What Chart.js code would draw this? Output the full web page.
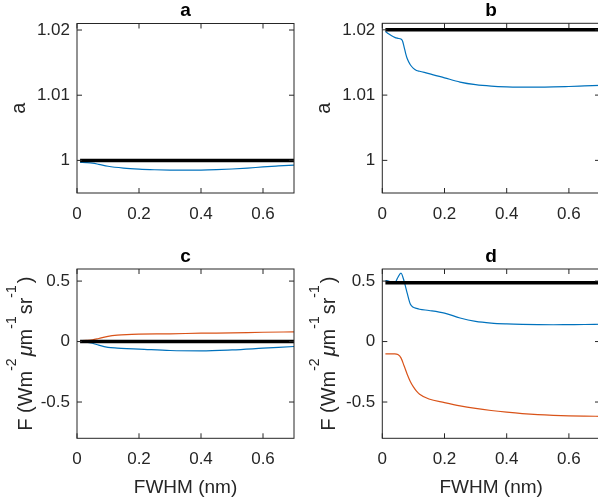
<!DOCTYPE html>
<html>
<head>
<meta charset="utf-8">
<script src="https://cdn.jsdelivr.net/npm/chart.js@4"></script>
<style>
  html, body { margin: 0; padding: 0; background: #fff; overflow: hidden; }
  body { width: 598px; height: 502px; position: relative; }
  canvas { position: absolute; }
</style>
</head>
<body>
<canvas id="chartA" width="300" height="240" style="left:0px;top:0px;"></canvas>
<canvas id="chartB" width="305" height="240" style="left:300px;top:0px;"></canvas>
<canvas id="chartC" width="300" height="262" style="left:0px;top:240px;"></canvas>
<canvas id="chartD" width="305" height="262" style="left:300px;top:240px;"></canvas>
<script>
// ---- datos ----
var xTicks = [0, 0.2, 0.4, 0.6];
var yTicksTop = [1, 1.01, 1.02];
var yTicksBottom = [-0.5, 0, 0.5];

// panel a
var aX = [0.01, 0.03, 0.05, 0.07, 0.1, 0.15, 0.2, 0.25, 0.3, 0.35, 0.4, 0.45, 0.5, 0.55, 0.6, 0.65, 0.7];
var aBlue = [0.99970, 0.99966, 0.99958, 0.99940, 0.99910, 0.99882, 0.99866, 0.99857, 0.99852, 0.99851, 0.99852, 0.99858, 0.99868, 0.99882, 0.99900, 0.99915, 0.99929];
var aRefX = [0.01, 0.7];
var aRef = [1, 1];

// panel b
var bX = [0.01, 0.02, 0.03, 0.04, 0.05, 0.06, 0.065, 0.07, 0.075, 0.08, 0.09, 0.1, 0.11, 0.12, 0.15, 0.2, 0.25, 0.3, 0.35, 0.4, 0.45, 0.5, 0.55, 0.6, 0.65, 0.7];
var bBlue = [1.01975, 1.0194, 1.0191, 1.01885, 1.0187, 1.01858, 1.0183, 1.0174, 1.0164, 1.0156, 1.01465, 1.0141, 1.01378, 1.01365, 1.0133, 1.01265, 1.012, 1.0116, 1.01138, 1.01127, 1.01123, 1.01122, 1.01125, 1.01132, 1.0114, 1.01148];
var bRefX = [0.01, 0.7];
var bRef = [1.02, 1.02];

// panel c
var cX = [0.01, 0.03, 0.05, 0.07, 0.1, 0.13, 0.16, 0.2, 0.3, 0.4, 0.5, 0.6, 0.7];
var cOrange = [0.008, 0.010, 0.014, 0.025, 0.043, 0.053, 0.058, 0.061, 0.064, 0.069, 0.072, 0.077, 0.080];
var cBlue = [0.0, -0.004, -0.014, -0.030, -0.048, -0.054, -0.058, -0.062, -0.074, -0.077, -0.069, -0.055, -0.041];
var cRefX = [0.01, 0.7];
var cRef = [0, 0];

// panel d
var dX = [0.01, 0.02, 0.03, 0.04, 0.05, 0.06, 0.07, 0.08, 0.09, 0.1, 0.11, 0.12, 0.15, 0.2, 0.25, 0.3, 0.35, 0.4, 0.45, 0.5, 0.55, 0.6, 0.65, 0.7];
var dBlue = [0.505, 0.500, 0.492, 0.488, 0.530, 0.566, 0.500, 0.400, 0.310, 0.283, 0.274, 0.267, 0.257, 0.235, 0.195, 0.167, 0.153, 0.146, 0.142, 0.140, 0.139, 0.140, 0.141, 0.143];
var dOrange = [-0.102, -0.102, -0.102, -0.102, -0.108, -0.135, -0.200, -0.270, -0.330, -0.375, -0.410, -0.435, -0.475, -0.505, -0.532, -0.553, -0.570, -0.584, -0.596, -0.605, -0.611, -0.615, -0.617, -0.618];
var dRefX = [0.01, 0.7];
var dRef = [0.487, 0.487];

// etiquetas
var xLabel = 'FWHM (nm)';
var yLabelTop = [{ t: 'a' }];
var yLabelBottom = [
    { t: 'F (Wm' }, { t: '-2', sup: true }, { t: '\u03bc', it: true }, { t: 'm' },
    { t: '-1', sup: true }, { t: 'sr' }, { t: '-1', sup: true }, { t: ')' }
];

var AZUL = '#0072BD';
var NARANJA = '#D95319';
var EJE = '#262626';
var FUENTE = '"Liberation Sans", Arial, Helvetica, sans-serif';

function puntos(xs, ys) {
    var out = [];
    for (var i = 0; i < xs.length; i++) out.push({ x: xs[i], y: ys[i] });
    return out;
}

// dibuja caja, ticks hacia dentro, titulo y etiquetas al estilo matlab
var matlabEjes = {
    id: 'matlabEjes',
    afterDraw: function (chart, args, o) {
        var ctx = chart.ctx, a = chart.chartArea;
        var xs = chart.scales.x, ys = chart.scales.y;
        ctx.save();
        ctx.strokeStyle = EJE;
        ctx.lineWidth = 1;
        ctx.strokeRect(a.left, a.top, a.right - a.left, a.bottom - a.top);
        ctx.beginPath();
        xs.ticks.forEach(function (t) {
            var p = xs.getPixelForValue(t.value);
            ctx.moveTo(p, a.bottom); ctx.lineTo(p, a.bottom - 5);
            ctx.moveTo(p, a.top); ctx.lineTo(p, a.top + 5);
        });
        ys.ticks.forEach(function (t) {
            var p = ys.getPixelForValue(t.value);
            ctx.moveTo(a.left, p); ctx.lineTo(a.left + 5, p);
            ctx.moveTo(a.right, p); ctx.lineTo(a.right - 5, p);
        });
        ctx.stroke();

        // titulo
        ctx.fillStyle = '#000';
        ctx.font = 'bold 19px ' + FUENTE;
        ctx.textAlign = 'center';
        ctx.textBaseline = 'alphabetic';
        ctx.fillText(o.titulo, (a.left + a.right) / 2, a.top - 7.5);

        // etiqueta x
        ctx.fillStyle = EJE;
        if (o.xLabel) {
            ctx.font = '19px ' + FUENTE;
            ctx.fillText(o.xLabel, (a.left + a.right) / 2, a.bottom + 54.4);
        }

        // etiqueta y (rotada, con superindices)
        var segs = o.yLabel;
        var fMain = '20px ' + FUENTE, fSup = '14px ' + FUENTE, fIt = 'italic 20px ' + FUENTE;
        var total = 0;
        segs.forEach(function (s) {
            ctx.font = s.sup ? fSup : (s.it ? fIt : fMain);
            s.w = ctx.measureText(s.t).width + (s.sup ? 2 : 0);
            total += s.w;
        });
        ctx.translate(o.yLabelX, (a.top + a.bottom) / 2);
        ctx.rotate(-Math.PI / 2);
        ctx.textAlign = 'left';
        var x = -total / 2;
        segs.forEach(function (s) {
            ctx.font = s.sup ? fSup : (s.it ? fIt : fMain);
            ctx.fillText(s.t, x, s.sup ? -16 : 0);
            x += s.w;
        });
        ctx.restore();
    }
};

function panel(id, cfg) {
    var ctx = document.getElementById(id);
    var W = ctx.width, H = ctx.height;
    var datasets = cfg.series.map(function (s) {
        return {
            data: puntos(s.x, s.y),
            borderColor: s.color,
            borderWidth: s.width,
            pointRadius: 0,
            fill: false,
            tension: 0.3,
            cubicInterpolationMode: 'monotone',
            borderCapStyle: 'butt'
        };
    });
    var config = {
        type: 'line',
        data: { datasets: datasets },
        options: {
            responsive: false,
            animation: false,
            events: [],
            layout: { padding: { left: 0, top: cfg.area.top, right: W - cfg.area.right, bottom: 0 } },
            plugins: {
                legend: { display: false },
                tooltip: { enabled: false },
                matlabEjes: { titulo: cfg.titulo, xLabel: cfg.xLabel, yLabel: cfg.yLabel, yLabelX: cfg.yLabelX }
            },
            scales: {
                x: {
                    type: 'linear', min: 0, max: 0.7,
                    grid: { display: false, drawTicks: false },
                    border: { display: false },
                    afterBuildTicks: function (s) { s.ticks = xTicks.map(function (v) { return { value: v }; }); },
                    afterFit: function (s) { s.height = H - cfg.area.bottom; },
                    ticks: {
                        color: EJE, padding: 11, maxRotation: 0,
                        font: { family: FUENTE, size: 17 },
                        callback: function (v) { return String(Math.round(v * 10) / 10); }
                    }
                },
                y: {
                    type: 'linear', min: cfg.yMin, max: cfg.yMax,
                    grid: { display: false, drawTicks: false },
                    border: { display: false },
                    afterBuildTicks: function (s) { s.ticks = cfg.yTicks.map(function (v) { return { value: v }; }); },
                    afterFit: function (s) { s.width = cfg.area.left; },
                    ticks: {
                        color: EJE, padding: 7,
                        font: { family: FUENTE, size: 17 },
                        callback: function (v) { return String(Math.round(v * 1000) / 1000); }
                    }
                }
            }
        },
        plugins: [matlabEjes]
    };
    return new Chart(ctx, config);
}

panel('chartA', {
    titulo: 'a', yLabel: yLabelTop, yLabelX: 25, xLabel: null,
    area: { left: 77, top: 23.5, right: 294, bottom: 193 },
    yMin: 0.995, yMax: 1.021, yTicks: yTicksTop,
    series: [
        { x: aRefX, y: aRef, color: '#000', width: 3.5 },
        { x: aX, y: aBlue, color: AZUL, width: 1.2 }
    ]
});

panel('chartB', {
    titulo: 'b', yLabel: yLabelTop, yLabelX: 30, xLabel: null,
    area: { left: 82.3, top: 23.3, right: 300, bottom: 193 },
    yMin: 0.995, yMax: 1.021, yTicks: yTicksTop,
    series: [
        { x: bRefX, y: bRef, color: '#000', width: 3.5 },
        { x: bX, y: bBlue, color: AZUL, width: 1.2 }
    ]
});

panel('chartC', {
    titulo: 'c', yLabel: yLabelBottom, yLabelX: 32, xLabel: xLabel,
    area: { left: 77, top: 29, right: 294, bottom: 198.3 },
    yMin: -0.8, yMax: 0.6, yTicks: yTicksBottom,
    series: [
        { x: cRefX, y: cRef, color: '#000', width: 3.5 },
        { x: cX, y: cBlue, color: AZUL, width: 1.2 },
        { x: cX, y: cOrange, color: NARANJA, width: 1.2 }
    ]
});

panel('chartD', {
    titulo: 'd', yLabel: yLabelBottom, yLabelX: 35, xLabel: xLabel,
    area: { left: 82.3, top: 29, right: 300, bottom: 198.3 },
    yMin: -0.8, yMax: 0.6, yTicks: yTicksBottom,
    series: [
        { x: dRefX, y: dRef, color: '#000', width: 3.5 },
        { x: dX, y: dBlue, color: AZUL, width: 1.2 },
        { x: dX, y: dOrange, color: NARANJA, width: 1.2 }
    ]
});
</script>
</body>
</html>
